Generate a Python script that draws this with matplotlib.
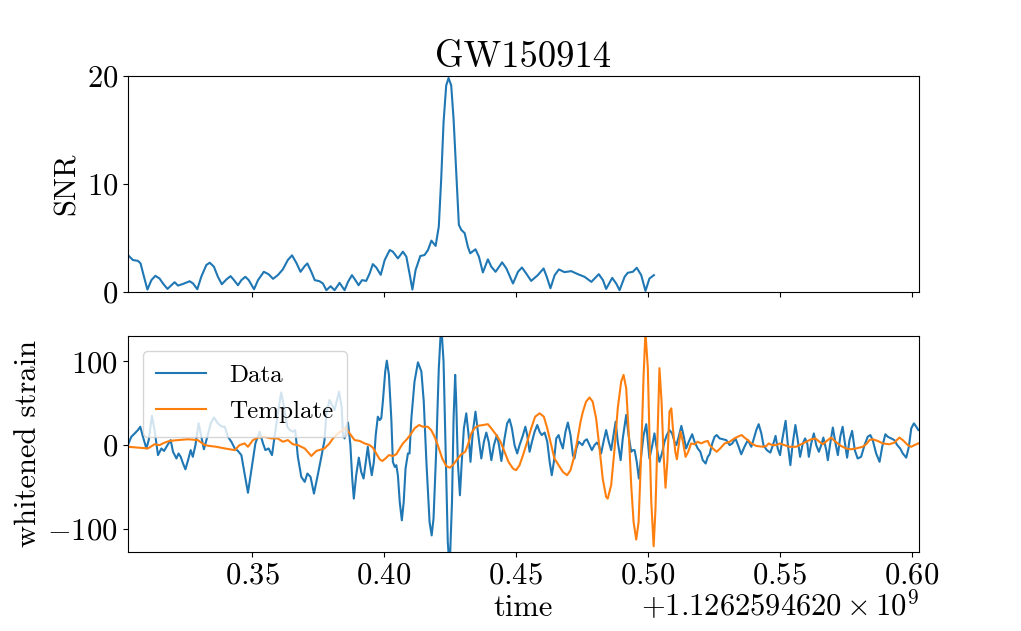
import matplotlib
matplotlib.use("Agg")
import matplotlib.pyplot as plt
from matplotlib.ticker import ScalarFormatter
from matplotlib.transforms import ScaledTranslation

# GPS offset shown next to the time axis
T_OFFSET_LABEL = r"$+1.1262594620\times10^{9}$"
EVENT = "GW150914"

# matched-filter SNR (seconds after the offset)
snr_time = [0.3030, 0.3049, 0.3068, 0.3078, 0.3091, 0.3104, 0.3119, 0.3134, 0.3150, 0.3163,
            0.3180, 0.3195, 0.3207, 0.3220, 0.3239, 0.3264, 0.3277, 0.3293, 0.3308, 0.3327,
            0.3340, 0.3356, 0.3371, 0.3386, 0.3403, 0.3419, 0.3432, 0.3447, 0.3460, 0.3475,
            0.3488, 0.3508, 0.3523, 0.3545, 0.3563, 0.3580, 0.3598, 0.3617, 0.3636, 0.3652,
            0.3668, 0.3684, 0.3700, 0.3710, 0.3725, 0.3738, 0.3756, 0.3769, 0.3782, 0.3798,
            0.3813, 0.3832, 0.3851, 0.3864, 0.3879, 0.3892, 0.3904, 0.3917, 0.3933, 0.3946,
            0.3958, 0.3971, 0.3988, 0.4003, 0.4022, 0.4034, 0.4053, 0.4072, 0.4085, 0.4097,
            0.4108, 0.4120, 0.4138, 0.4154, 0.4167, 0.4180, 0.4196, 0.4208, 0.4217, 0.4226,
            0.4236, 0.4245, 0.4255, 0.4264, 0.4274, 0.4284, 0.4293, 0.4306, 0.4318, 0.4327,
            0.4347, 0.4360, 0.4375, 0.4394, 0.4407, 0.4423, 0.4448, 0.4464, 0.4489, 0.4508,
            0.4523, 0.4539, 0.4558, 0.4583, 0.4605, 0.4617, 0.4631, 0.4647, 0.4663, 0.4684,
            0.4710, 0.4735, 0.4760, 0.4786, 0.4814, 0.4830, 0.4842, 0.4865, 0.4880, 0.4893,
            0.4912, 0.4924, 0.4943, 0.4958, 0.4975, 0.4991, 0.5006, 0.5023]
snr = [3.44, 2.98, 2.90, 2.67, 1.43, 0.25, 1.12, 1.52, 1.27, 0.81,
       0.31, 0.65, 0.93, 0.62, 0.77, 1.02, 0.81, 0.28, 1.43, 2.51,
       2.73, 2.36, 1.43, 0.74, 1.18, 1.49, 1.12, 0.65, 1.12, 1.43,
       1.12, 0.28, 1.12, 1.89, 1.67, 1.24, 1.58, 2.11, 2.98, 3.41,
       2.73, 1.89, 2.42, 2.66, 1.89, 1.12, 1.02, 0.81, 0.19, 0.56,
       0.19, 0.87, 0.19, 0.96, 1.58, 1.12, 0.65, 1.12, 1.05, 1.74,
       2.60, 2.29, 1.61, 2.98, 3.90, 3.75, 3.13, 3.75, 3.29, 1.74,
       0.25, 2.05, 3.35, 3.44, 3.90, 4.77, 4.28, 6.08, 10.42, 15.69,
       19.10, 19.79, 19.10, 16.00, 11.04, 6.23, 5.77, 5.46, 4.21, 3.60,
       3.97, 3.29, 1.83, 3.04, 2.36, 1.89, 2.76, 2.20, 0.81, 1.89,
       2.29, 1.74, 1.05, 1.58, 2.20, 1.43, 0.37, 1.58, 2.11, 1.86,
       1.95, 1.67, 1.43, 0.96, 1.67, 1.12, 0.31, 1.33, 0.81, 0.19,
       1.43, 1.80, 1.89, 2.26, 1.58, 0.12, 1.27, 1.58]

# whitened detector data
data_time = [0.3030, 0.3043, 0.3056, 0.3068, 0.3077, 0.3087, 0.3100, 0.3109, 0.3121, 0.3131,
             0.3144, 0.3157, 0.3167, 0.3180, 0.3192, 0.3201, 0.3214, 0.3222, 0.3230, 0.3239,
             0.3248, 0.3258, 0.3268, 0.3276, 0.3286, 0.3298, 0.3311, 0.3318, 0.3331, 0.3344,
             0.3356, 0.3371, 0.3386, 0.3397, 0.3409, 0.3422, 0.3435, 0.3447, 0.3460, 0.3472,
             0.3485, 0.3498, 0.3513, 0.3529, 0.3542, 0.3551, 0.3563, 0.3576, 0.3589, 0.3598,
             0.3611, 0.3621, 0.3634, 0.3643, 0.3655, 0.3664, 0.3674, 0.3687, 0.3700, 0.3710,
             0.3722, 0.3735, 0.3748, 0.3763, 0.3775, 0.3782, 0.3794, 0.3813, 0.3830, 0.3840,
             0.3845, 0.3851, 0.3858, 0.3864, 0.3873, 0.3880, 0.3886, 0.3895, 0.3905, 0.3914,
             0.3923, 0.3933, 0.3939, 0.3946, 0.3954, 0.3962, 0.3969, 0.3977, 0.3984, 0.3990,
             0.3996, 0.4005, 0.4011, 0.4019, 0.4028, 0.4034, 0.4041, 0.4047, 0.4053, 0.4060,
             0.4068, 0.4075, 0.4082, 0.4091, 0.4097, 0.4104, 0.4116, 0.4129, 0.4142, 0.4151,
             0.4161, 0.4173, 0.4181, 0.4188, 0.4198, 0.4208, 0.4217, 0.4226, 0.4234, 0.4242,
             0.4249, 0.4258, 0.4264, 0.4270, 0.4274, 0.4280, 0.4288, 0.4295, 0.4303, 0.4312,
             0.4321, 0.4328, 0.4337, 0.4347, 0.4356, 0.4369, 0.4379, 0.4388, 0.4397, 0.4407,
             0.4417, 0.4428, 0.4436, 0.4445, 0.4457, 0.4467, 0.4476, 0.4485, 0.4495, 0.4505,
             0.4514, 0.4527, 0.4536, 0.4543, 0.4552, 0.4561, 0.4571, 0.4581, 0.4590, 0.4598,
             0.4609, 0.4619, 0.4628, 0.4636, 0.4644, 0.4653, 0.4662, 0.4669, 0.4678, 0.4688,
             0.4697, 0.4707, 0.4716, 0.4722, 0.4729, 0.4738, 0.4745, 0.4752, 0.4760, 0.4769,
             0.4779, 0.4788, 0.4798, 0.4807, 0.4814, 0.4823, 0.4832, 0.4842, 0.4852, 0.4861,
             0.4870, 0.4878, 0.4886, 0.4897, 0.4905, 0.4918, 0.4927, 0.4937, 0.4943, 0.4950,
             0.4958, 0.4966, 0.4975, 0.4984, 0.4994, 0.5000, 0.5006, 0.5017, 0.5025, 0.5034,
             0.5044, 0.5055, 0.5063, 0.5072, 0.5082, 0.5092, 0.5101, 0.5108, 0.5117, 0.5127,
             0.5135, 0.5145, 0.5155, 0.5168, 0.5177, 0.5189, 0.5199, 0.5208, 0.5219, 0.5227,
             0.5234, 0.5244, 0.5253, 0.5261, 0.5272, 0.5284, 0.5297, 0.5310, 0.5320, 0.5332,
             0.5344, 0.5354, 0.5366, 0.5379, 0.5392, 0.5400, 0.5411, 0.5420, 0.5430, 0.5438,
             0.5451, 0.5464, 0.5474, 0.5484, 0.5492, 0.5501, 0.5509, 0.5522, 0.5530, 0.5540,
             0.5549, 0.5559, 0.5568, 0.5577, 0.5587, 0.5596, 0.5604, 0.5610, 0.5619, 0.5629,
             0.5638, 0.5648, 0.5657, 0.5665, 0.5676, 0.5682, 0.5691, 0.5701, 0.5711, 0.5720,
             0.5729, 0.5738, 0.5745, 0.5755, 0.5764, 0.5774, 0.5784, 0.5795, 0.5808, 0.5821,
             0.5833, 0.5843, 0.5852, 0.5865, 0.5878, 0.5888, 0.5900, 0.5909, 0.5922, 0.5934,
             0.5945, 0.5956, 0.5966, 0.5979, 0.5989, 0.5998, 0.6008, 0.6017, 0.6025]
data_strain = [0, 10, 14, 18, 22, 10, -4, 6, 35, 18,
               -12, -4, -7, 0, 6, -8, -16, -10, -14, -22,
               -29, -18, -6, -14, 0, 26, 6, -5, 10, 26,
               33, 26, 22, 22, 10, 4, -4, -7, -12, -34,
               -57, -30, 2, 16, 2, -6, -4, -12, 18, 38,
               63, 46, 22, 18, 16, 18, -14, -38, -44, -34,
               -38, -58, -38, -14, 6, 38, 54, 42, 64, 45,
               12, 8, 22, 27, 0, -40, -64, -36, -15, -32,
               -40, -16, -2, -20, -36, -20, 12, 34, 30, 32,
               52, 88, 101, 84, 32, -20, -26, -24, -36, -68,
               -90, -68, -28, -10, -10, 32, 76, 99, 88, 52,
               -20, -92, -108, -88, -8, 92, 145, 100, -8, -116,
               -148, -68, 32, 84, 52, -20, -60, -20, 20, 38,
               12, -20, 16, 40, 16, -16, 4, 15, 4, -18,
               0, 12, 0, -19, 8, 26, 31, 20, 0, -10,
               0, 12, 22, 12, -8, 4, 16, 24, 16, 12,
               15, 4, -20, -36, -20, 8, 12, 4, -4, 16,
               27, 12, -12, -16, -4, 4, 2, 0, 5, 7,
               0, -6, 0, 3, 0, -10, 4, 18, 4, -6,
               12, 28, 4, -18, 8, 36, 12, -8, -6, -6,
               -20, -40, -12, 12, 25, 4, -16, 0, 14, -4,
               -20, -8, 4, 12, 18, 14, 4, 0, 10, 23,
               12, -4, 4, 13, 4, -4, -8, -18, -22, -14,
               -11, 2, 10, 12, 8, 7, 6, 0, 2, 8,
               -2, -11, -2, 6, -2, 6, 18, 25, 14, 0,
               -6, -9, 0, 11, -4, -12, 6, 29, 2, -24,
               2, 24, 6, -14, 2, 8, 2, -14, 2, 14,
               0, -8, 0, 9, -6, -18, 2, 21, 2, -12,
               10, 22, 6, -15, 6, 17, -6, -16, -14, 0,
               10, 12, 6, -10, -20, -2, 13, 10, 8, 6,
               0, -4, -10, -15, -2, 20, 26, 22, 18]

# best-fit whitened template
tmpl_time = [0.3030, 0.3068, 0.3106, 0.3131, 0.3150, 0.3169, 0.3188, 0.3220, 0.3258, 0.3295,
             0.3321, 0.3340, 0.3365, 0.3397, 0.3435, 0.3453, 0.3472, 0.3485, 0.3504, 0.3523,
             0.3545, 0.3573, 0.3598, 0.3617, 0.3636, 0.3655, 0.3674, 0.3700, 0.3725, 0.3744,
             0.3775, 0.3794, 0.3807, 0.3826, 0.3845, 0.3855, 0.3870, 0.3889, 0.3908, 0.3927,
             0.3946, 0.3958, 0.3971, 0.3984, 0.3994, 0.4006, 0.4019, 0.4034, 0.4047, 0.4060,
             0.4072, 0.4087, 0.4104, 0.4116, 0.4133, 0.4148, 0.4166, 0.4179, 0.4192, 0.4204,
             0.4221, 0.4236, 0.4249, 0.4261, 0.4280, 0.4293, 0.4308, 0.4318, 0.4331, 0.4343,
             0.4356, 0.4375, 0.4394, 0.4407, 0.4426, 0.4442, 0.4457, 0.4472, 0.4489, 0.4501,
             0.4514, 0.4527, 0.4543, 0.4558, 0.4573, 0.4590, 0.4606, 0.4619, 0.4634, 0.4646,
             0.4662, 0.4678, 0.4694, 0.4707, 0.4719, 0.4732, 0.4745, 0.4754, 0.4766, 0.4779,
             0.4791, 0.4804, 0.4817, 0.4829, 0.4842, 0.4848, 0.4861, 0.4874, 0.4886, 0.4899,
             0.4908, 0.4918, 0.4928, 0.4937, 0.4946, 0.4956, 0.4965, 0.4975, 0.4984, 0.4991,
             0.5000, 0.5006, 0.5013, 0.5022, 0.5029, 0.5037, 0.5044, 0.5052, 0.5059, 0.5067,
             0.5074, 0.5082, 0.5089, 0.5095, 0.5104, 0.5110, 0.5117, 0.5124, 0.5133, 0.5143,
             0.5153, 0.5164, 0.5177, 0.5189, 0.5202, 0.5215, 0.5227, 0.5234, 0.5246, 0.5261,
             0.5274, 0.5291, 0.5310, 0.5328, 0.5347, 0.5356, 0.5366, 0.5379, 0.5392, 0.5411,
             0.5436, 0.5449, 0.5458, 0.5471, 0.5486, 0.5501, 0.5517, 0.5537, 0.5562, 0.5581,
             0.5600, 0.5619, 0.5635, 0.5650, 0.5663, 0.5678, 0.5694, 0.5711, 0.5732, 0.5751,
             0.5770, 0.5789, 0.5814, 0.5827, 0.5840, 0.5852, 0.5871, 0.5890, 0.5915, 0.5934,
             0.5953, 0.5966, 0.5985, 0.5998, 0.6010, 0.6025]
tmpl_strain = [-2, -3, -4, 1, 0, 3, 5, 6, 7, 6,
               0, -1, -2, -4, -6, 0, 2, -2, 6, 9,
               10, 8, 8, 4, 6, 1, 0, -4, -13, -7,
               -4, 2, 8, 14, 18, 21, 14, 6, 5, 2,
               0, -3, -10, -17, -19, -16, -12, -13, -11, -4,
               2, 7, 14, 20, 24, 22, 22, 18, 10, 0,
               -16, -25, -27, -24, -16, -11, -8, 0, 14, 20,
               23, 24, 25, 20, 12, 4, -8, -20, -28, -30,
               -24, -12, 4, 20, 34, 38, 34, 20, 0, -16,
               -24, -32, -36, -30, -16, 4, 28, 40, 52, 57,
               52, 32, -4, -40, -62, -64, -48, -4, 44, 76,
               84, 68, 12, -48, -92, -113, -92, -8, 84, 135,
               92, 12, -68, -121, -76, 12, 92, 52, -8, -51,
               -20, 40, 44, 20, -8, -17, 0, 16, 4, -14,
               -8, 2, 1, 4, 2, 4, 5, 0, -4, -8,
               -4, 2, 4, 8, 11, 12, 9, 6, 2, -1,
               -2, -1, 2, 0, 0, 2, 0, -2, -2, 1,
               4, 7, 8, 4, 1, 5, 9, 4, -1, -4,
               -5, -4, -2, 1, 6, 7, 5, 2, 1, 3,
               9, 6, 0, -2, 0, 2]


class GPSFormatter(ScalarFormatter):
    # keep the short tick labels, print the GPS offset by hand
    def get_offset(self):
        return T_OFFSET_LABEL


plt.rcParams.update({
    "font.family": "serif",
    "font.serif": ["cmr10"],
    "mathtext.fontset": "cm",
    "axes.formatter.use_mathtext": True,
    "font.size": 22,
})

fig, (ax1, ax2) = plt.subplots(2, 1, sharex=True, figsize=(10.21, 6.31), dpi=100)
fig.subplots_adjust(left=0.125, right=0.9, top=0.88, bottom=0.125, hspace=0.2)

ax1.plot(snr_time, snr)
ax1.set_ylabel("SNR")
ax1.set_ylim(0, 20)
ax1.set_title(EVENT)
ax1.tick_params(labelbottom=False)

ax2.plot(data_time, data_strain, label="Data")
ax2.plot(tmpl_time, tmpl_strain, label="Template")
ax2.set_ylim(-128, 131)
ax2.set_xlim(0.3029, 0.6027)
ax2.set_ylabel("whitened strain")
ax2.set_xlabel("time")
ax2.xaxis.set_major_formatter(GPSFormatter())
ax2.legend(loc="upper left", fontsize=18, handletextpad=0.9,
           borderpad=0.55, labelspacing=0.55, borderaxespad=0.6)

# lift the offset text so it sits on the same line as the axis label
off = ax2.xaxis.get_offset_text()
off.set_transform(off.get_transform() + ScaledTranslation(0, 4 / 72, fig.dpi_scale_trans))

plt.savefig("out.png")
